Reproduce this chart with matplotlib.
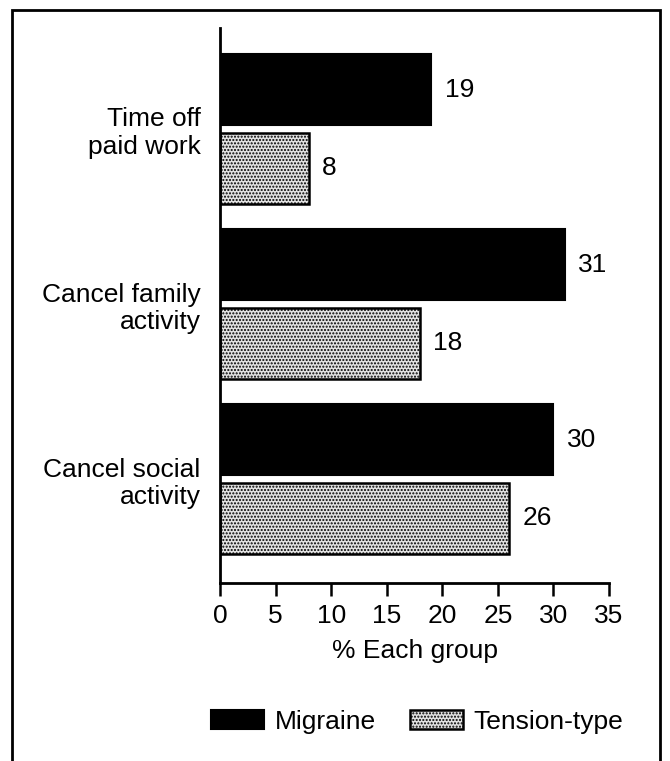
import matplotlib
matplotlib.use("Agg")
import matplotlib.pyplot as plt
import numpy as np
from matplotlib.patches import Rectangle

categories = ["Time off\npaid work", "Cancel family\nactivity", "Cancel social\nactivity"]
migraine = [19, 31, 30]
tension = [8, 18, 26]
series_names = ["Migraine", "Tension-type"]
xticks = [0, 5, 10, 15, 20, 25, 30, 35]

plt.rcParams['font.family'] = ['Liberation Sans', 'DejaVu Sans']
plt.rcParams['hatch.linewidth'] = 1.0

W, H = 670, 761
fig = plt.figure(figsize=(W / 100, H / 100), dpi=100)

# outer frame
fig.patches.append(Rectangle((12 / W, -0.01), (660 - 12) / W, 1 - 10 / H + 0.01,
                             transform=fig.transFigure, fill=False,
                             edgecolor='black', linewidth=2))

ax = fig.add_axes([220 / W, 1 - 583 / H, (609 - 220) / W, (583 - 28) / H])

y = np.arange(len(categories))
bh = 0.405
off = 0.224
fs = 19

ax.barh(y - off, migraine, height=bh, color='black', edgecolor='black',
        linewidth=1.5, label=series_names[0])
ax.barh(y + off, tension, height=bh, color='#e2e2e2', edgecolor='black',
        hatch='.....', linewidth=1.8, label=series_names[1])

for yi, v in zip(y, migraine):
    ax.text(v + 1.2, yi - off, str(v), va='center', ha='left', fontsize=fs)
for yi, v in zip(y, tension):
    ax.text(v + 1.2, yi + off, str(v), va='center', ha='left', fontsize=fs)

ax.set_xlim(0, 35)
ax.set_ylim(2.594, -0.577)
ax.set_xticks(xticks)
ax.set_xticklabels([str(t) for t in xticks], fontsize=fs)
ax.set_yticks(y)
ax.set_yticklabels(categories, fontsize=fs, linespacing=1.2)
ax.tick_params(axis='y', length=0, pad=14)
ax.tick_params(axis='x', direction='out', length=9, width=1.8, pad=6)
for s in ['top', 'right']:
    ax.spines[s].set_visible(False)
for s in ['left', 'bottom']:
    ax.spines[s].set_linewidth(2)
ax.set_xlabel("% Each group", fontsize=fs, labelpad=8)

leg = fig.legend(loc='center', bbox_to_anchor=(417 / W, 1 - 722 / H), ncol=2,
                 frameon=False, fontsize=fs, handlelength=2.0, handleheight=0.75,
                 columnspacing=1.3, handletextpad=0.4)

fig.savefig("out.png", dpi=100)
